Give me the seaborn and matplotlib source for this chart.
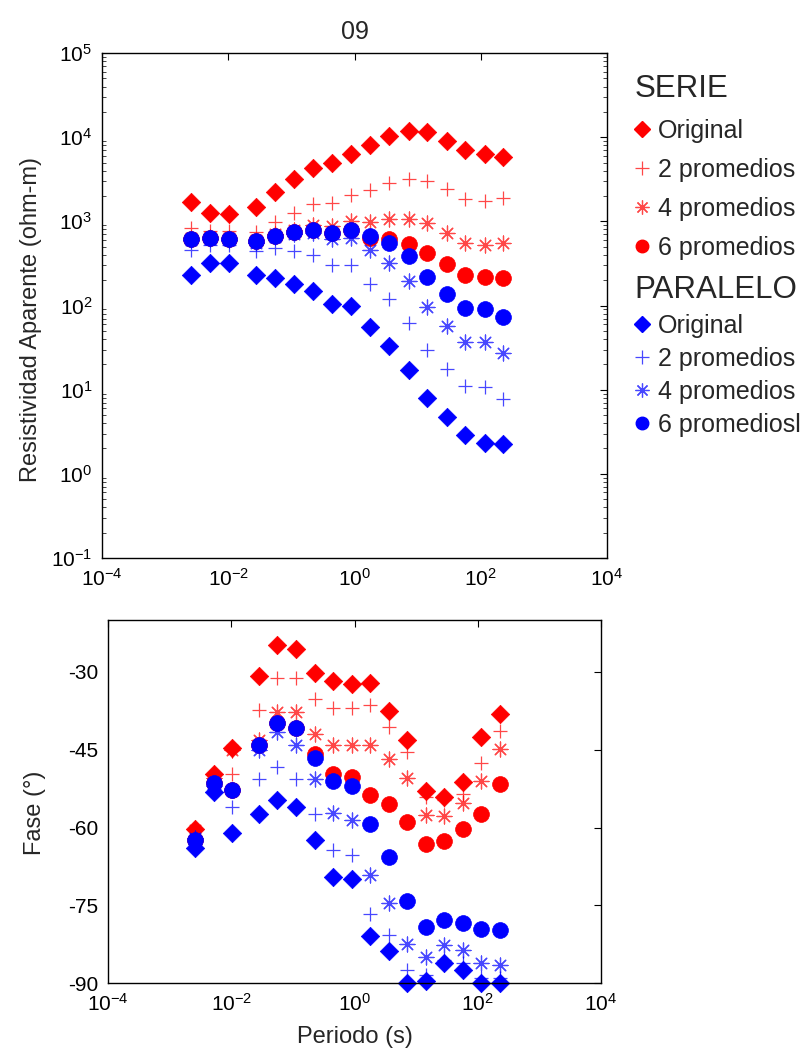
import matplotlib
matplotlib.use("Agg")
import matplotlib.pyplot as plt
import numpy as np
import pandas as pd
import seaborn as sns
from matplotlib.lines import Line2D
from matplotlib.ticker import LogLocator, NullLocator, FixedLocator, NullFormatter

# ---------------- data ----------------
periodo = [0.0026, 0.0052, 0.0104, 0.028, 0.056, 0.112, 0.224, 0.448, 0.896,
           1.79, 3.58, 7.17, 14.3, 28.7, 57.3, 115, 229]

# apparent resistivity (ohm-m)
rho_serie_original = [1680, 1245, 1220, 1490, 2210, 3190, 4340, 4980, 6260,
                      8070, 10200, 11800, 11500, 9080, 7040, 6260, 5860]
rho_serie_2 = [840, 760, 760, 745, 980, 1270, 1610, 1670, 2040,
               2360, 2830, 3160, 3040, 2400, 1840, 1750, 1890]
rho_serie_4 = [640, 650, 630, 600, 700, 780, 905, 880, 1000,
               975, 1060, 1060, 948, 733, 557, 524, 548]
rho_serie_6 = [622, 634, 617, 579, 675, 747, 789, 721, 789,
               630, 612, 538, 424, 311, 230, 216, 211]
rho_paralelo_original = [230, 323, 317, 229, 210, 179, 150, 104, 99.5,
                         55, 33.3, 17.1, 8.0, 4.7, 2.9, 2.34, 2.28]
rho_paralelo_2 = [456, 520, 520, 441, 479, 441, 398, 303, 303,
                  180, 118, 62.5, 29.6, 17.5, 11.1, 10.7, 7.7]
rho_paralelo_4 = [600, 620, 600, 560, 650, 700, 720, 612, 635,
                  456, 317, 195, 96.8, 57.5, 37.2, 36.6, 27.5]
rho_paralelo_6 = [622, 634, 617, 579, 675, 747, 789, 721, 789,
                  670, 557, 391, 220, 137, 92.6, 90.2, 73.6]

# phase (degrees)
fase_serie_original = [-60.3, -49.6, -44.6, -30.8, -24.9, -25.6, -30.3, -31.8, -32.3,
                       -32.2, -37.6, -43.2, -52.9, -54.1, -51.3, -42.5, -38.1]
fase_serie_2 = [-60.5, -50.5, -49.6, -37.4, -31.2, -31.2, -35.3, -36.9, -37.0,
                -36.4, -40.7, -45.4, -54.1, -54.7, -53.5, -47.5, -41.4]
fase_serie_4 = [-60.5, -50.5, -45.0, -43.2, -37.7, -37.7, -41.9, -44.0, -44.0,
                -44.0, -46.7, -50.5, -57.6, -57.8, -55.2, -51.0, -44.8]
fase_serie_6 = [-62.3, -51.4, -52.8, -44.1, -39.8, -40.8, -45.8, -49.7, -50.2,
                -53.7, -55.5, -58.9, -63.2, -62.6, -60.3, -57.3, -51.6]
fase_paralelo_original = [-64.0, -53.1, -61.1, -57.3, -54.7, -56.1, -62.3, -69.5, -70.0,
                          -80.9, -83.7, -89.9, -89.5, -86.0, -87.4, -90.0, -90.0]
fase_paralelo_2 = [-62.0, -52.5, -56.0, -50.7, -48.4, -50.7, -57.4, -64.3, -65.3,
                   -76.7, -80.7, -87.4, -88.4, -85.5, -86.1, -89.0, -89.0]
fase_paralelo_4 = [-62.0, -52.0, -52.8, -45.1, -41.6, -44.0, -50.7, -57.1, -58.6,
                   -69.1, -74.5, -82.4, -84.9, -82.6, -83.6, -86.0, -86.5]
fase_paralelo_6 = [-62.3, -51.4, -52.8, -44.1, -39.8, -40.8, -46.5, -51.0, -52.0,
                   -59.3, -65.6, -74.2, -79.1, -77.8, -78.3, -79.6, -79.7]

serie_labels = ["Original", "2 promedios", "4 promedios", "6 promedios"]
paralelo_labels = ["Original", "2 promedios", "4 promedios", "6 promediosl"]
x_tick_values = [1e-4, 1e-2, 1e0, 1e2, 1e4]
fase_ticks = [-90, -75, -60, -45, -30]

# ---------------- style ----------------
sns.set_theme(style="white")
plt.rcParams["font.family"] = ["Liberation Sans", "DejaVu Sans"]
plt.rcParams["mathtext.default"] = "regular"
plt.rcParams["axes.unicode_minus"] = False
plt.rcParams["axes.edgecolor"] = "black"
plt.rcParams["axes.linewidth"] = 1.0

RED = "#ff0000"
BLUE = "#0000ff"
ASTER = (8, 2, 0)
marker_specs = [
    dict(marker="D", s=88, filled=True),
    dict(marker="+", s=115, filled=False),
    dict(marker=ASTER, s=115, filled=False),
    dict(marker="o", s=130, filled=True),
]

fig = plt.figure(figsize=(8.09, 10.54), dpi=100)
ax1 = fig.add_axes([0.1261, 0.4706, 0.6242, 0.4791])
ax2 = fig.add_axes([0.1339, 0.0671, 0.6087, 0.3447])


def draw(ax, series_list, color, clip=True):
    for spec, vals in zip(marker_specs, series_list):
        df = pd.DataFrame({"periodo": periodo, "valor": vals})
        kw = dict(marker=spec["marker"], s=spec["s"], color=color, clip_on=clip)
        if spec["filled"]:
            kw.update(edgecolor=color, linewidth=0.5)
        else:
            kw.update(linewidth=0.9, alpha=0.72)
        sns.scatterplot(data=df, x="periodo", y="valor", ax=ax, legend=False, **kw)


rho_serie = [rho_serie_original, rho_serie_2, rho_serie_4, rho_serie_6]
rho_par = [rho_paralelo_original, rho_paralelo_2, rho_paralelo_4, rho_paralelo_6]
fase_serie = [fase_serie_original, fase_serie_2, fase_serie_4, fase_serie_6]
fase_par = [fase_paralelo_original, fase_paralelo_2, fase_paralelo_4, fase_paralelo_6]

draw(ax1, rho_serie, RED)
draw(ax1, rho_par, BLUE)
draw(ax2, fase_serie, RED, clip=False)
draw(ax2, fase_par, BLUE, clip=False)

# ---------------- axes formatting ----------------
for ax in (ax1, ax2):
    ax.set_xscale("log")
    ax.set_xlim(1e-4, 1e4)
    ax.xaxis.set_major_locator(FixedLocator(x_tick_values))
    ax.xaxis.set_minor_locator(NullLocator())
    ax.tick_params(axis="both", which="major", direction="in", top=True, right=True,
                   length=5, width=0.8, labelsize=15, colors="black", pad=7)
    for sp in ax.spines.values():
        sp.set_color("black")
        sp.set_linewidth(1.0)

ax1.set_yscale("log")
ax1.set_ylim(1e-1, 1e5)
ax1.yaxis.set_major_locator(LogLocator(base=10, numticks=10))
ax1.yaxis.set_minor_locator(LogLocator(base=10, subs=np.arange(2, 10), numticks=20))
ax1.yaxis.set_minor_formatter(NullFormatter())
ax1.tick_params(axis="y", which="minor", direction="in", left=True, right=True,
                length=3, width=0.6)
ax1.set_xlabel("")
ax1.set_ylabel("Resistividad Aparente (ohm-m)", fontsize=17)
ax1.yaxis.set_label_coords(-0.119, 0.473)
ax1.set_title("09", fontsize=18, pad=10)

ax2.set_ylim(-90, -20)
ax2.yaxis.set_major_locator(FixedLocator(fase_ticks))
ax2.set_xlabel("Periodo (s)", fontsize=17, labelpad=8)
ax2.set_ylabel("Fase (°)", fontsize=17)
ax2.yaxis.set_label_coords(-0.127, 0.47)

# ---------------- legends ----------------
def handles(color):
    hs = []
    for spec in marker_specs:
        if spec["filled"]:
            ms = 8.5 if spec["marker"] == "D" else 9
            hs.append(Line2D([], [], ls="none", marker=spec["marker"], color=color,
                             markersize=ms))
        else:
            hs.append(Line2D([], [], ls="none", marker=spec["marker"], color=color,
                             markersize=10, mew=0.9, alpha=0.72))
    return hs

common = dict(loc="upper left", bbox_transform=fig.transFigure, frameon=False,
              fontsize=18, title_fontsize=22.5, alignment="left", handlelength=0.6,
              handletextpad=0.35, borderaxespad=0, borderpad=0)
leg1 = ax1.legend(handles=handles(RED), labels=serie_labels, title="SERIE",
                  bbox_to_anchor=(0.784, 0.930), labelspacing=0.6, **common)
ax1.add_artist(leg1)
leg2 = ax1.legend(handles=handles(BLUE), labels=paralelo_labels, title="PARALELO",
                  bbox_to_anchor=(0.784, 0.739), labelspacing=0.36, **common)

fig.savefig("out.png", dpi=100)
